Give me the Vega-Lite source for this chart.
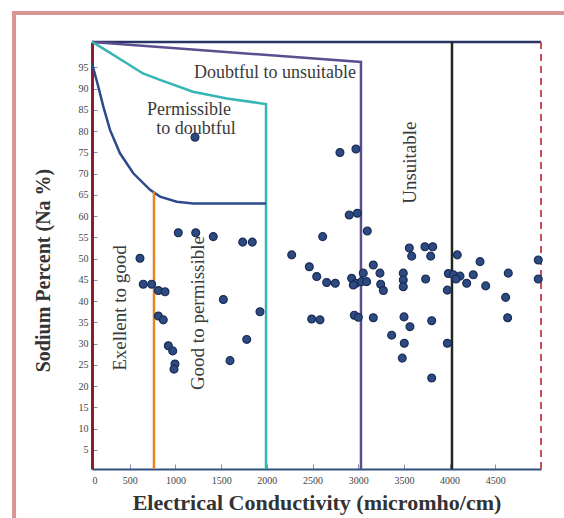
{
  "$schema": "https://vega.github.io/schema/vega-lite/v6.json",
  "width": 449,
  "height": 427,
  "autosize": "none",
  "padding": {"left": 92, "top": 42, "right": 23, "bottom": 49},
  "background": "white",
  "config": {
    "view": {"stroke": null},
    "font": "Liberation Serif",
    "axis": {"labelOverlap": false, "labelSeparation": 0}
  },
  "datasets": {
    "points": [
      {"ec": 1031, "na": 56.1}, {"ec": 1222, "na": 56.1}, {"ec": 1414, "na": 55.2}, {"ec": 1736, "na": 53.9},
      {"ec": 1841, "na": 53.9}, {"ec": 612, "na": 50.1}, {"ec": 648, "na": 44.0}, {"ec": 740, "na": 44.0},
      {"ec": 813, "na": 42.5}, {"ec": 886, "na": 42.2}, {"ec": 1524, "na": 40.4}, {"ec": 813, "na": 36.5},
      {"ec": 867, "na": 35.6}, {"ec": 1925, "na": 37.5}, {"ec": 922, "na": 29.5}, {"ec": 970, "na": 28.3},
      {"ec": 1780, "na": 31.0}, {"ec": 1597, "na": 26.0}, {"ec": 995, "na": 25.2}, {"ec": 984, "na": 24.0},
      {"ec": 1214, "na": 78.6}, {"ec": 2800, "na": 75.0}, {"ec": 2975, "na": 75.8}, {"ec": 2902, "na": 60.3},
      {"ec": 2990, "na": 60.7}, {"ec": 3099, "na": 56.5}, {"ec": 2611, "na": 55.2}, {"ec": 2272, "na": 50.9},
      {"ec": 2465, "na": 48.1}, {"ec": 2546, "na": 45.8}, {"ec": 2655, "na": 44.4}, {"ec": 2749, "na": 44.2},
      {"ec": 2928, "na": 45.4}, {"ec": 2975, "na": 44.2}, {"ec": 3038, "na": 44.6}, {"ec": 3092, "na": 44.6},
      {"ec": 2946, "na": 43.8}, {"ec": 3055, "na": 46.6}, {"ec": 3165, "na": 48.5}, {"ec": 3238, "na": 46.6},
      {"ec": 3246, "na": 44.0}, {"ec": 3275, "na": 42.5}, {"ec": 3493, "na": 46.6}, {"ec": 3493, "na": 45.0},
      {"ec": 3493, "na": 43.4}, {"ec": 3559, "na": 52.5}, {"ec": 3585, "na": 50.6}, {"ec": 3730, "na": 52.8},
      {"ec": 3815, "na": 52.8}, {"ec": 3793, "na": 50.6}, {"ec": 3738, "na": 45.2}, {"ec": 4084, "na": 50.9},
      {"ec": 3986, "na": 46.5}, {"ec": 4041, "na": 46.2}, {"ec": 4114, "na": 45.9}, {"ec": 4070, "na": 45.2},
      {"ec": 3975, "na": 42.6}, {"ec": 4187, "na": 44.2}, {"ec": 4259, "na": 46.2}, {"ec": 4333, "na": 49.3},
      {"ec": 4395, "na": 43.6}, {"ec": 4642, "na": 46.6}, {"ec": 4613, "na": 40.9}, {"ec": 4635, "na": 36.1},
      {"ec": 4970, "na": 49.7}, {"ec": 4970, "na": 45.2}, {"ec": 2491, "na": 35.8}, {"ec": 2582, "na": 35.6},
      {"ec": 2957, "na": 36.7}, {"ec": 3001, "na": 36.2}, {"ec": 3165, "na": 36.1}, {"ec": 3366, "na": 32.0},
      {"ec": 3501, "na": 36.3}, {"ec": 3566, "na": 34.0}, {"ec": 3504, "na": 30.1}, {"ec": 3482, "na": 26.6},
      {"ec": 3804, "na": 35.4}, {"ec": 3804, "na": 21.9}, {"ec": 3975, "na": 30.1}
    ],
    "lines": [
      {"line": "top", "ord": 1, "ec": 87, "na": 101}, {"line": "top", "ord": 2, "ec": 5000, "na": 101},
      {"line": "purple", "ord": 1, "ec": 87, "na": 101}, {"line": "purple", "ord": 2, "ec": 3030, "na": 96.3}, {"line": "purple", "ord": 3, "ec": 3030, "na": 0.5},
      {"line": "teal", "ord": 1, "ec": 87, "na": 101}, {"line": "teal", "ord": 2, "ec": 175, "na": 99.9}, {"line": "teal", "ord": 3, "ec": 467, "na": 96.0},
      {"line": "teal", "ord": 4, "ec": 645, "na": 93.6}, {"line": "teal", "ord": 5, "ec": 831, "na": 92.1}, {"line": "teal", "ord": 6, "ec": 1192, "na": 89.3},
      {"line": "teal", "ord": 7, "ec": 1564, "na": 87.7}, {"line": "teal", "ord": 8, "ec": 1925, "na": 86.6}, {"line": "teal", "ord": 9, "ec": 1991, "na": 86.4},
      {"line": "teal", "ord": 10, "ec": 1991, "na": 0.5},
      {"line": "blue", "ord": 1, "ec": 87, "na": 96.0}, {"line": "blue", "ord": 2, "ec": 156, "na": 90.5}, {"line": "blue", "ord": 3, "ec": 211, "na": 85.8},
      {"line": "blue", "ord": 4, "ec": 284, "na": 80.3}, {"line": "blue", "ord": 5, "ec": 393, "na": 74.8}, {"line": "blue", "ord": 6, "ec": 539, "na": 70.1},
      {"line": "blue", "ord": 7, "ec": 722, "na": 66.2}, {"line": "blue", "ord": 8, "ec": 831, "na": 64.6}, {"line": "blue", "ord": 9, "ec": 1014, "na": 63.4},
      {"line": "blue", "ord": 10, "ec": 1195, "na": 63.0}, {"line": "blue", "ord": 11, "ec": 1991, "na": 63.0},
      {"line": "orange", "ord": 1, "ec": 765, "na": 0.5}, {"line": "orange", "ord": 2, "ec": 765, "na": 65.8},
      {"line": "black", "ord": 1, "ec": 4026, "na": 0.5}, {"line": "black", "ord": 2, "ec": 4026, "na": 101}
    ],
    "dashed": [
      {"ord": 1, "ec": 5000, "na": 0.5}, {"ord": 2, "ec": 5000, "na": 101}
    ],
    "frame": [
      {"ord": 1, "ec": -766, "na": -12}, {"ord": 2, "ec": -766, "na": 107.8}, {"ord": 3, "ec": 5260, "na": 107.8}
    ],
    "labels": [
      {"text": "Doubtful to unsuitable", "ec": 2089, "na": 93.7},
      {"text": "Permissible", "ec": 1148, "na": 85.0},
      {"text": "to doubtful", "ec": 1225, "na": 80.5}
    ],
    "vlabels": [
      {"text": "Exellent to good", "ec": 393, "na": 38.4},
      {"text": "Good to permissible", "ec": 1250, "na": 37.2},
      {"text": "Unsuitable", "ec": 3566, "na": 72.6}
    ]
  },
  "encoding": {
    "x": {
      "field": "ec", "type": "quantitative",
      "scale": {"domain": [87, 5000], "nice": false, "zero": false},
      "axis": {
        "title": "Electrical Conductivity (micromho/cm)",
        "values": [87, 500, 1000, 1500, 2000, 2500, 3000, 3500, 4000, 4500],
        "labelExpr": "datum.value < 100 ? '0' : format(datum.value, 'd')",
        "labelOverlap": false,
        "grid": false,
        "domainColor": "#2e5182", "domainWidth": 2,
        "tickColor": "#8090a8", "tickSize": -5, "tickWidth": 1,
        "labelFont": "Liberation Serif", "labelFontSize": 10, "labelColor": "#444444", "labelPadding": 11,
        "titleFont": "Liberation Serif", "titleFontSize": 22, "titleFontWeight": "bold", "titleColor": "#333333", "titlePadding": 7
      }
    },
    "y": {
      "field": "na", "type": "quantitative",
      "scale": {"domain": [0.5, 101], "nice": false, "zero": false},
      "axis": {
        "title": "Sodium Percent (Na %)",
        "values": [5, 10, 15, 20, 25, 30, 35, 40, 45, 50, 55, 60, 65, 70, 75, 80, 85, 90, 95],
        "labelExpr": "format(datum.value, 'd')",
        "labelOverlap": false,
        "grid": false,
        "domainColor": "#8b1e2e", "domainWidth": 3,
        "tickColor": "#8090a8", "tickSize": -5, "tickWidth": 1,
        "labelFont": "Liberation Serif", "labelFontSize": 10, "labelColor": "#444444", "labelPadding": 9,
        "titleFont": "Liberation Serif", "titleFontSize": 20, "titleFontWeight": "bold", "titleColor": "#333333", "titlePadding": 25,
        "titleY": 228
      }
    }
  },
  "layer": [
    {
      "data": {"name": "frame"},
      "mark": {"type": "line", "strokeWidth": 4, "color": "#d99494"},
      "encoding": {
        "order": {"field": "ord", "type": "quantitative"}
      }
    },
    {
      "data": {"name": "lines"},
      "mark": {"type": "line", "strokeWidth": 2.5, "interpolate": "linear"},
      "encoding": {
        "color": {
          "field": "line", "type": "nominal", "legend": null,
          "scale": {"domain": ["top", "purple", "teal", "blue", "orange", "black"],
                    "range": ["#2b3467", "#5b4f8f", "#35b5b3", "#2e4a8c", "#e8832a", "#1e2a1e"]}
        },
        "order": {"field": "ord", "type": "quantitative"}
      }
    },
    {
      "data": {"name": "dashed"},
      "mark": {"type": "line", "strokeWidth": 2, "strokeDash": [7, 5], "color": "#c4505a"},
      "encoding": {
        "order": {"field": "ord", "type": "quantitative"}
      }
    },
    {
      "data": {"name": "points"},
      "mark": {"type": "point", "shape": "circle", "filled": true, "size": 62, "fill": "#2d4b82", "stroke": "#1a2d55", "strokeWidth": 1.2, "opacity": 1}
    },
    {
      "data": {"name": "labels"},
      "mark": {"type": "text", "font": "Liberation Serif", "fontSize": 18, "color": "#3a3a3a", "align": "center", "baseline": "middle"},
      "encoding": {
        "text": {"field": "text"}
      }
    },
    {
      "data": {"name": "vlabels"},
      "mark": {"type": "text", "font": "Liberation Serif", "fontSize": 19, "color": "#3a3a3a", "align": "center", "baseline": "middle", "angle": 270},
      "encoding": {
        "text": {"field": "text"}
      }
    }
  ]
}
